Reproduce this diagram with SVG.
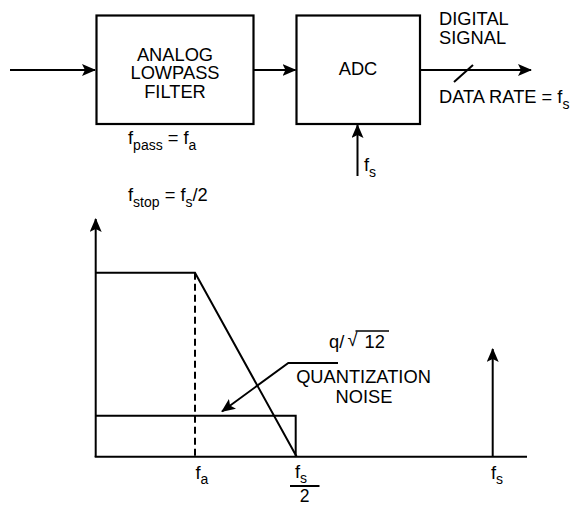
<svg xmlns="http://www.w3.org/2000/svg" width="574" height="506" viewBox="0 0 574 506">
<defs>
<style>
.ln{stroke:#000;stroke-width:2;fill:none}
.box{stroke:#000;stroke-width:2.2;fill:#fff}
text{font-family:"Liberation Sans",Arial,sans-serif;font-size:18.3px;fill:#000}
.sub{font-size:14px}
.mid{text-anchor:middle}
</style>
<marker id="ah" markerUnits="userSpaceOnUse" markerWidth="14" markerHeight="12" refX="13" refY="6" orient="auto">
<path d="M0,0 L14,6 L0,12 L3,6 Z" fill="#000"/>
</marker>
</defs>
<rect width="574" height="506" fill="#fff"/>
<g id="filter">
<rect class="box" x="96.5" y="15.5" width="157" height="108.5"/>
<text class="mid" x="175" y="60.5">ANALOG</text>
<text class="mid" x="175" y="79">LOWPASS</text>
<text class="mid" x="175" y="97.5">FILTER</text>
</g>
<g id="adc">
<rect class="box" x="296.5" y="15.5" width="123.5" height="108.5"/>
<text class="mid" x="358" y="75">ADC</text>
</g>
<g id="connectors">
<line class="ln" x1="10" y1="70" x2="95" y2="70" marker-end="url(#ah)"/>
<line class="ln" x1="253.5" y1="70" x2="295.5" y2="70" marker-end="url(#ah)"/>
<line class="ln" x1="420" y1="70" x2="531" y2="70" marker-end="url(#ah)"/>
<line class="ln" x1="454" y1="82" x2="473" y2="65"/>
<line class="ln" x1="357.5" y1="176" x2="357.5" y2="125" marker-end="url(#ah)"/>
</g>
<g id="labels">
<text x="439" y="25">DIGITAL</text>
<text x="439" y="43.5">SIGNAL</text>
<text x="439" y="103">DATA RATE = f<tspan class="sub" dy="6">s</tspan></text>
<text x="128" y="144">f<tspan class="sub" dy="6">pass</tspan><tspan dy="-6"> = f</tspan><tspan class="sub" dy="6">a</tspan></text>
<text x="128" y="201">f<tspan class="sub" dy="6">stop</tspan><tspan dy="-6"> = f</tspan><tspan class="sub" dy="6">s</tspan><tspan dy="-6">/2</tspan></text>
<text x="364" y="171">f<tspan class="sub" dy="6">s</tspan></text>
</g>
<g id="chart">
<line class="ln" x1="95.7" y1="457" x2="95.7" y2="219" marker-end="url(#ah)"/>
<line class="ln" x1="94.7" y1="456.7" x2="527" y2="456.7"/>
<polyline class="ln" points="95.7,272.7 195,272.7 296.7,456.7"/>
<line class="ln" x1="195" y1="272.7" x2="195" y2="456.7" stroke-dasharray="7,4"/>
<polyline class="ln" points="95.7,415.7 295.7,415.7 295.7,456.7"/>
<line class="ln" x1="492.7" y1="456.7" x2="492.7" y2="349" marker-end="url(#ah)"/>
</g>
<g id="noise-label">
<polyline class="ln" points="338,363 288.3,363 222,411.5" marker-end="url(#ah)"/>
<text x="329" y="348">q/</text>
<text x="347.5" y="346">√</text>
<line class="ln" x1="355.5" y1="331" x2="389" y2="331" style="stroke-width:1.5"/>
<text x="364.5" y="348">12</text>
<text class="mid" x="363.5" y="383">QUANTIZATION</text>
<text class="mid" x="364" y="402.5">NOISE</text>
</g>
<g id="axis-labels">
<text x="195.5" y="479">f<tspan class="sub" dy="5">a</tspan></text>
<text x="295" y="478">f<tspan class="sub" dy="5">s</tspan></text>
<line class="ln" x1="290" y1="486" x2="319.5" y2="486"/>
<text class="mid" x="304.5" y="502" style="font-size:17.5px">2</text>
<text x="491" y="479">f<tspan class="sub" dy="5">s</tspan></text>
</g>
</svg>
